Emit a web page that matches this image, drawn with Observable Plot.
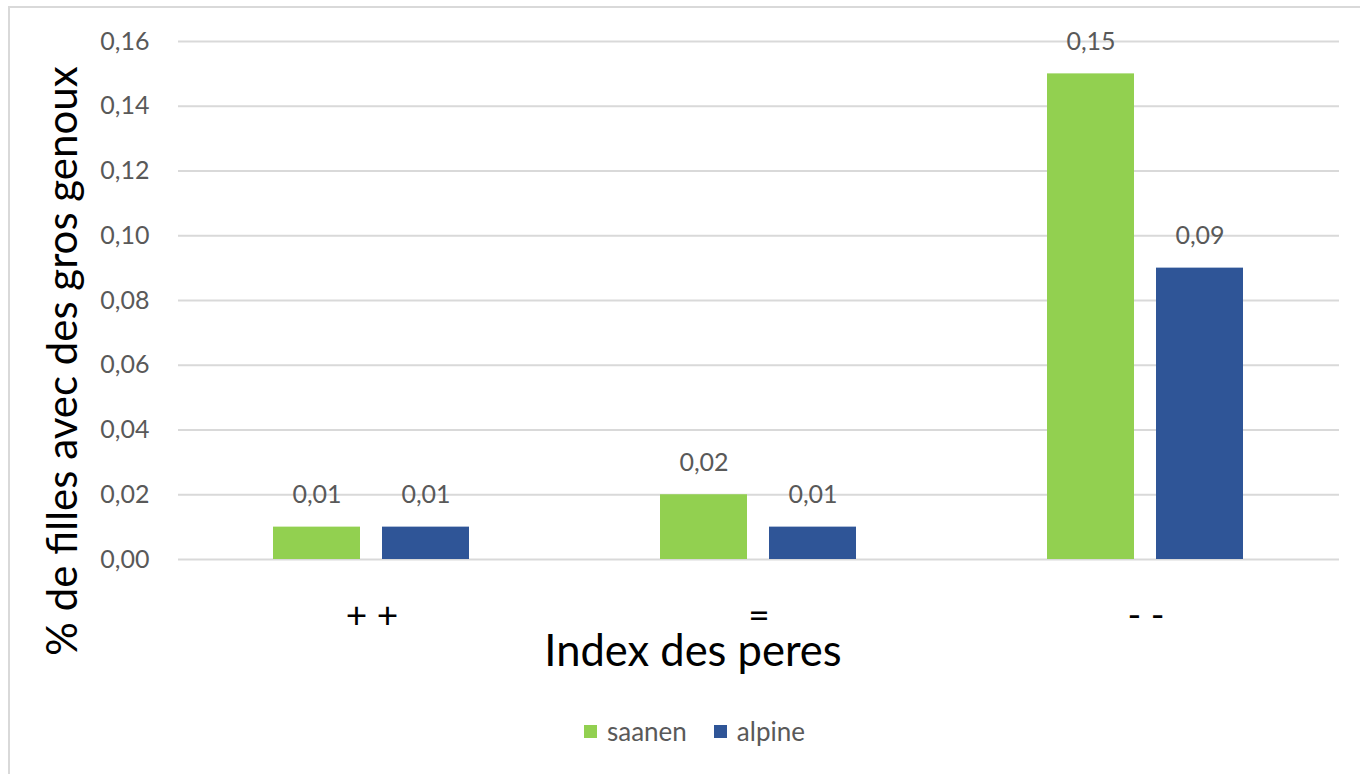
<!DOCTYPE html>
<html>
<head>
<meta charset="utf-8">
<script src="https://cdn.jsdelivr.net/npm/d3@7"></script>
<script src="https://cdn.jsdelivr.net/npm/@observablehq/plot@0.6"></script>
<style>
  html, body { margin: 0; padding: 0; background: #fff; overflow: hidden; }
  #wrap { position: relative; width: 1360px; height: 774px; overflow: hidden; font-family: Lato, "Open Sans", sans-serif; }
  #frame { position: absolute; left: 8px; top: 6px; width: 1400px; height: 820px; border: 2px solid #d9d9d9; box-sizing: border-box; }
  #chart { position: absolute; left: 0; top: 0; }
  .ytitle { position: absolute; left: 61px; top: 361px; transform: translate(-50%, -50%) rotate(-90deg); white-space: nowrap; font-size: 42px; color: #000; }
  .xtitle { position: absolute; left: 693px; top: 650px; transform: translate(-50%, -50%); white-space: nowrap; font-size: 43.5px; line-height: 0.55; color: #000; }
  #legend { position: absolute; top: 715px; left: 584px; display: flex; align-items: center; font-size: 26px; color: #595959; white-space: nowrap; }
  #legend .item { display: flex; align-items: center; margin-right: 27px; }
  #legend .sw { width: 13px; height: 13px; margin-right: 10px; }
</style>
</head>
<body>
<div id="wrap">
  <div id="frame"></div>
  <div id="chart"></div>
  <div class="ytitle" id="ytitle"></div>
  <div class="xtitle" id="xtitle"></div>
  <div id="legend"></div>
</div>
<script>
const categories = ["+ +", "=", "- -"];
const series = ["saanen", "alpine"];
const saanen = [0.01, 0.02, 0.15];
const alpine = [0.01, 0.01, 0.09];
const seriesColors = ["#92d050", "#2f5597"];
const yTicks = [0, 0.02, 0.04, 0.06, 0.08, 0.10, 0.12, 0.14, 0.16];
const yTitle = "% de filles avec des gros genoux";
const xTitle = "Index des peres";

const values = {saanen, alpine};
const data = categories.flatMap((c, i) => series.map(s => ({cat: c, s, v: values[s][i]})));
const fmt = v => d3.format(".2f")(v).replace(".", ",");

const chart = Plot.plot({
  width: 1360,
  height: 700,
  marginTop: 41,
  marginBottom: 141,
  marginLeft: 177,
  marginRight: 21,
  style: {fontFamily: "Lato, 'Open Sans', sans-serif", background: "transparent", overflow: "visible"},
  fx: {domain: categories, padding: 0, label: null, axis: null},
  x: {domain: series, paddingInner: 0.2, paddingOuter: 0.86, axis: null},
  y: {domain: [0, 0.16], axis: null},
  color: {domain: series, range: seriesColors},
  marks: [
    Plot.gridY(yTicks, {stroke: "#d9d9d9", strokeOpacity: 1, strokeWidth: 2}),
    Plot.axisY(yTicks, {tickSize: 0, tickPadding: 29, tickFormat: fmt, fontSize: 25, fill: "#595959", label: null}),
    Plot.axisFx({anchor: "bottom", tickSize: 0, tickPadding: 42, fontSize: 37, fill: "#000", label: null}),
    Plot.barY(data, {fx: "cat", x: "s", y: "v", fill: "s"}),
    Plot.text(data, {fx: "cat", x: "s", y: "v", text: d => fmt(d.v), dy: -32, fontSize: 25, fill: "#595959"})
  ]
});
document.getElementById("chart").appendChild(chart);
document.getElementById("ytitle").textContent = yTitle;
document.getElementById("xtitle").textContent = xTitle;

const legend = document.getElementById("legend");
series.forEach((s, i) => {
  const item = document.createElement("div");
  item.className = "item";
  const sw = document.createElement("div");
  sw.className = "sw";
  sw.style.background = seriesColors[i];
  const lab = document.createElement("span");
  lab.textContent = s;
  item.appendChild(sw);
  item.appendChild(lab);
  legend.appendChild(item);
});
</script>
</body>
</html>
